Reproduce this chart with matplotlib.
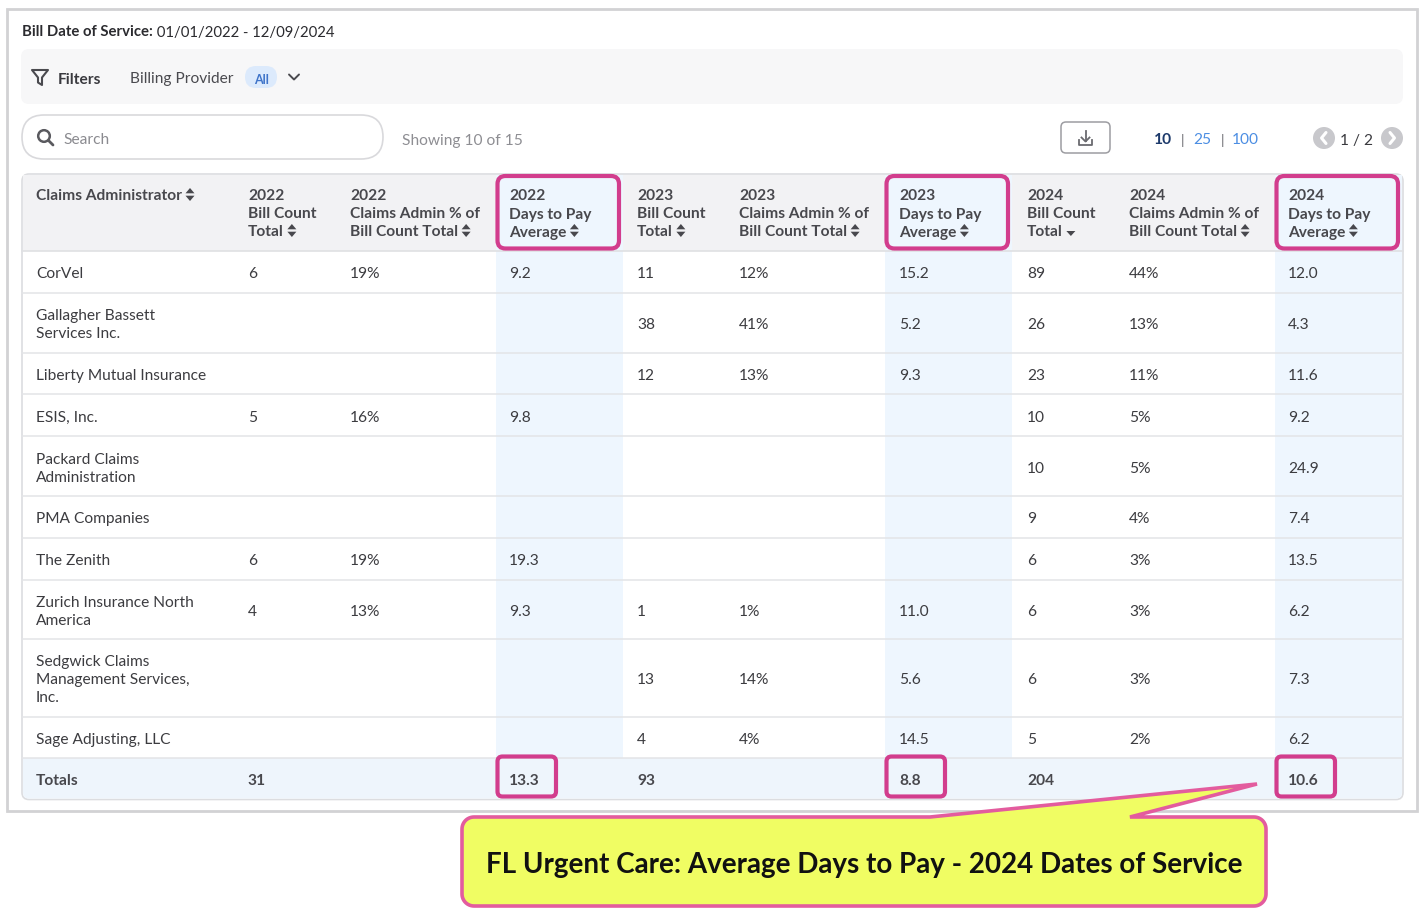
import numpy as np
import matplotlib
matplotlib.use("Agg")
import matplotlib.pyplot as plt
from matplotlib.patches import FancyBboxPatch, Rectangle, Polygon, Circle

# ---------------- data ----------------
admins = ["CorVel", "Gallagher Bassett\nServices Inc.", "Liberty Mutual Insurance",
          "ESIS, Inc.", "Packard Claims\nAdministration", "PMA Companies", "The Zenith",
          "Zurich Insurance North\nAmerica", "Sedgwick Claims\nManagement Services,\nInc.",
          "Sage Adjusting, LLC"]
years = ["2022", "2023", "2024"]
metric_labels = ["Bill Count\nTotal", "Claims Admin % of\nBill Count Total", "Days to Pay\nAverage"]

bill_2022 = [6, None, None, 5, None, None, 6, 4, None, None]
pct_2022 = [19, None, None, 16, None, None, 19, 13, None, None]
days_2022 = [9.2, None, None, 9.8, None, None, 19.3, 9.3, None, None]
bill_2023 = [11, 38, 12, None, None, None, None, 1, 13, 4]
pct_2023 = [12, 41, 13, None, None, None, None, 1, 14, 4]
days_2023 = [15.2, 5.2, 9.3, None, None, None, None, 11.0, 5.6, 14.5]
bill_2024 = [89, 26, 23, 10, 10, 9, 6, 6, 6, 5]
pct_2024 = [44, 13, 11, 5, 5, 4, 3, 3, 3, 2]
days_2024 = [12.0, 4.3, 11.6, 9.2, 24.9, 7.4, 13.5, 6.2, 7.3, 6.2]
total_bill = [31, 93, 204]
total_days = [13.3, 8.8, 10.6]

title_bold = "Bill Date of Service:"
title_rest = " 01/01/2022 - 12/09/2024"
callout_text = "FL Urgent Care: Average Days to Pay - 2024 Dates of Service"

# ---------------- styling ----------------
FONT = ["Lato", "DejaVu Sans"]
plt.rcParams['font.family'] = FONT
TXT = "#3c3c40"
HDR = "#48484d"
MAG = "#d23d8d"
BLUE_BG = "#eef6fe"
FS = 11.2
DY = 1.5

fig = plt.figure(figsize=(14.26, 9.2), dpi=100)
ax = fig.add_axes([0, 0, 1, 1])
ax.set_xlim(0, 1426)
ax.set_ylim(920, 0)
ax.axis("off")
fig.canvas.draw()
renderer = fig.canvas.get_renderer()
inv = ax.transData.inverted()


def txt(x, y, s, **kw):
    kw.setdefault("va", "center")
    kw.setdefault("ha", "left")
    kw.setdefault("zorder", 5)
    return ax.text(x, y + DY, s, **kw)


def rbox(x0, y0, x1, y1, r, fc="none", ec="none", lw=1.0, z=1):
    p = FancyBboxPatch((x0, y0), x1 - x0, y1 - y0,
                       boxstyle=f"round,pad=0,rounding_size={r}",
                       fc=fc, ec=ec, lw=lw, zorder=z)
    ax.add_patch(p)
    return p


def right_edge(t):
    bb = t.get_window_extent(renderer)
    return inv.transform((bb.x1, bb.y0))[0]


def sort_icon(x, y, both=True, color=HDR):
    w = 4.5
    if both:
        ax.add_patch(Polygon([(x - w, y - 1.2), (x + w, y - 1.2), (x, y - 6.5)], closed=True, fc=color, ec="none", zorder=6))
        ax.add_patch(Polygon([(x - w, y + 1.2), (x + w, y + 1.2), (x, y + 6.5)], closed=True, fc=color, ec="none", zorder=6))
    else:
        ax.add_patch(Polygon([(x - w, y + 0.5), (x + w, y + 0.5), (x, y + 5.5)], closed=True, fc=color, ec="none", zorder=6))


# ---------------- outer card ----------------
ax.add_patch(Rectangle((7, 10), 1410, 802, fc="white", ec="#d2d2d4", lw=2, zorder=0))

# title
t = txt(22, 31, title_bold, fontsize=10.7, fontweight="bold", color="#2b2b2f")
fig.canvas.draw()
txt(right_edge(t), 31, title_rest, fontsize=10.7, color="#2b2b2f")

# filter bar
rbox(21, 50, 1403, 105, 8, fc="#f7f7f8")
ax.add_patch(Polygon([(32, 71), (48, 71), (42, 78.5), (42, 86), (38, 83.5), (38, 78.5)], closed=True,
                     fc="none", ec="#4a4a4f", lw=1.5, joinstyle="round", zorder=3))
txt(58, 78, "Filters", fontsize=FS, fontweight="bold", color="#3a3a3f")
txt(130, 78, "Billing Provider", fontsize=FS, color="#4a4a4f")
rbox(245, 67, 277, 89, 11, fc="#dceafc")
txt(261, 78, "All", fontsize=9, fontweight="bold", color="#3f74c9", ha="center")
ax.plot([289, 294, 299], [75.5, 80.5, 75.5], color="#4a4a4f", lw=1.4, solid_capstyle="round", zorder=3)

# search box
rbox(22, 116, 383, 160, 22, fc="white", ec="#d9d9dc", lw=1.2)
ax.add_patch(Circle((44, 137), 5.8, fc="none", ec="#5a5a5f", lw=1.8, zorder=3))
ax.plot([48.5, 53], [141.5, 146], color="#5a5a5f", lw=2, solid_capstyle="round", zorder=3)
txt(63, 138, "Search", fontsize=FS, color="#8b8b90")
txt(402, 139, "Showing 10 of 15", fontsize=FS, color="#8e8e93")

# download button
rbox(1061, 123, 1110, 154, 5, fc="white", ec="#9d9da2", lw=1.1)
ax.plot([1085.5, 1085.5], [132, 142], color="#6a6a6f", lw=1.3, zorder=3)
ax.plot([1081.5, 1085.5, 1089.5], [138.5, 142.5, 138.5], color="#6a6a6f", lw=1.3, zorder=3)
ax.plot([1079, 1079, 1092, 1092], [141, 145.5, 145.5, 141], color="#6a6a6f", lw=1.3, zorder=3)

# page size
txt(1163, 139, "10", fontsize=FS, fontweight="bold", color="#1d3a6b", ha="center")
txt(1182, 139, "|", fontsize=FS - 1, color="#6a6a70", ha="center")
txt(1202, 139, "25", fontsize=FS, color="#4c8ee3", ha="center")
txt(1222, 139, "|", fontsize=FS - 1, color="#6a6a70", ha="center")
txt(1245, 139, "100", fontsize=FS, color="#4c8ee3", ha="center")

# pagination
for cx, d in [(1324, -1), (1392, 1)]:
    ax.add_patch(Circle((cx, 139), 11, fc="#c8c8cc", ec="none", zorder=3))
    ax.plot([cx - 2 * d, cx + 2.5 * d, cx - 2 * d], [133.5, 139, 144.5], color="white", lw=2.2,
            solid_capstyle="round", solid_joinstyle="round", zorder=4)
txt(1357, 139, "1 / 2", fontsize=FS, color="#3a3a3f", ha="center")

# ---------------- table ----------------
col_x = [36, 248, 350, 509, 637, 739, 899, 1027, 1129, 1288]
day_spans = [(496, 623), (885, 1012), (1275, 1403)]
TX0, TX1 = 22, 1403
HY0, HY1 = 175, 252
LINE = 18

nlines = [a.count("\n") + 1 for a in admins]
heights = [24.2 + 17.7 * n for n in nlines]
row_tops = [HY1]
for h in heights:
    row_tops.append(row_tops[-1] + h)
tot_y0 = row_tops[-1]
tot_y1 = tot_y0 + 41

# table background & header
rbox(TX0, HY0, TX1, tot_y1, 7, fc="white", ec="#dcdde0", lw=1.2, z=1)
ax.add_patch(Rectangle((TX0 + 1, HY0 + 1), TX1 - TX0 - 2, HY1 - HY0 - 1, fc="#f2f2f4", ec="none", zorder=1.5))
for (a, b) in day_spans:
    ax.add_patch(Rectangle((a, HY0 + 1), b - a - (1 if b == TX1 else 0), tot_y0 - HY0 - 1, fc=BLUE_BG, ec="none", zorder=1.6))
# totals row
ax.add_patch(FancyBboxPatch((TX0 + 1, tot_y0), TX1 - TX0 - 2, tot_y1 - tot_y0 - 1,
                            boxstyle="round,pad=0,rounding_size=6", fc="#eef5fc", ec="none", zorder=1.6))
ax.add_patch(Rectangle((TX0 + 1, tot_y0), TX1 - TX0 - 2, 10, fc="#eef5fc", ec="none", zorder=1.6))

# separators
ax.plot([TX0, TX1], [HY1, HY1], color="#dfe0e3", lw=1.2, zorder=2)
for yy in row_tops[1:]:
    ax.plot([TX0, TX1], [yy, yy], color="#e3e4e7", lw=1.1, zorder=2)

# header text
hdr_labels = ["Claims Administrator"]
for y in years:
    for m in metric_labels:
        hdr_labels.append(y + "\n" + m)
hdr_texts = []
for i, lab in enumerate(hdr_labels):
    lines = lab.split("\n")
    for j, ln in enumerate(lines):
        tt = txt(col_x[i], 195 + LINE * j, ln, fontsize=FS, fontweight="bold", color=HDR)
    hdr_texts.append((tt, 195 + LINE * (len(lines) - 1)))
fig.canvas.draw()
for i, (tt, yy) in enumerate(hdr_texts):
    sort_icon(right_edge(tt) + 8, yy + 0.5, both=(i != 7))

# body
cols = [bill_2022, pct_2022, days_2022, bill_2023, pct_2023, days_2023, bill_2024, pct_2024, days_2024]
kinds = ["n", "p", "d"] * 3


def fmt(v, k):
    if v is None:
        return ""
    if k == "n":
        return f"{v}"
    if k == "p":
        return f"{v}%"
    return f"{v:.1f}"


for r, name in enumerate(admins):
    yc = (row_tops[r] + row_tops[r + 1]) / 2
    lines = name.split("\n")
    n = len(lines)
    for j, ln in enumerate(lines):
        txt(col_x[0], yc + (j - (n - 1) / 2) * LINE, ln, fontsize=FS, color=TXT)
    for c, vals in enumerate(cols):
        s = fmt(vals[r], kinds[c])
        if s:
            txt(col_x[c + 1], yc, s, fontsize=FS, color=TXT)

# totals
ty = (tot_y0 + tot_y1) / 2
txt(col_x[0], ty, "Totals", fontsize=FS, fontweight="bold", color=HDR)
for k in range(3):
    txt(col_x[1 + 3 * k], ty, f"{total_bill[k]}", fontsize=FS, fontweight="bold", color=HDR)
    txt(col_x[3 + 3 * k], ty, f"{total_days[k]:.1f}", fontsize=FS, fontweight="bold", color=HDR)

# magenta highlight boxes
for (a, b) in day_spans:
    rbox(a + 1.5, HY0 + 2, a + 123, HY1 - 2.5, 8, fc="none", ec=MAG, lw=3, z=7)
    rbox(a + 1.5, tot_y0 - 2, a + 60, tot_y1 - 3, 5, fc="none", ec=MAG, lw=3, z=7)

# ---------------- callout ----------------
bx0, by0, bx1, by1, rr = 462, 818, 1266, 907, 12
tip = (1257, 785)
p_left, p_right = 930, 1130


def arc(cx, cy, r, a0, a1, n=12):
    a = np.radians(np.linspace(a0, a1, n))
    return [(cx + r * np.cos(t), cy + r * np.sin(t)) for t in a]


pts = []
pts += [(p_left, by0), tip, (p_right, by0)]
pts += [(bx1 - rr, by0)]
pts += arc(bx1 - rr, by0 + rr, rr, -90, 0)
pts += [(bx1, by1 - rr)]
pts += arc(bx1 - rr, by1 - rr, rr, 0, 90)
pts += [(bx0 + rr, by1)]
pts += arc(bx0 + rr, by1 - rr, rr, 90, 180)
pts += [(bx0, by0 + rr)]
pts += arc(bx0 + rr, by0 + rr, rr, 180, 270)
ax.add_patch(Polygon(pts, closed=True, fc="#f0fd63", ec="#e35c9e", lw=2.6, joinstyle="miter", zorder=8))
txt((bx0 + bx1) / 2, 864, callout_text, fontsize=20, fontweight="bold", color="#111111",
    ha="center", zorder=9)

fig.savefig("out.png", dpi=100)
